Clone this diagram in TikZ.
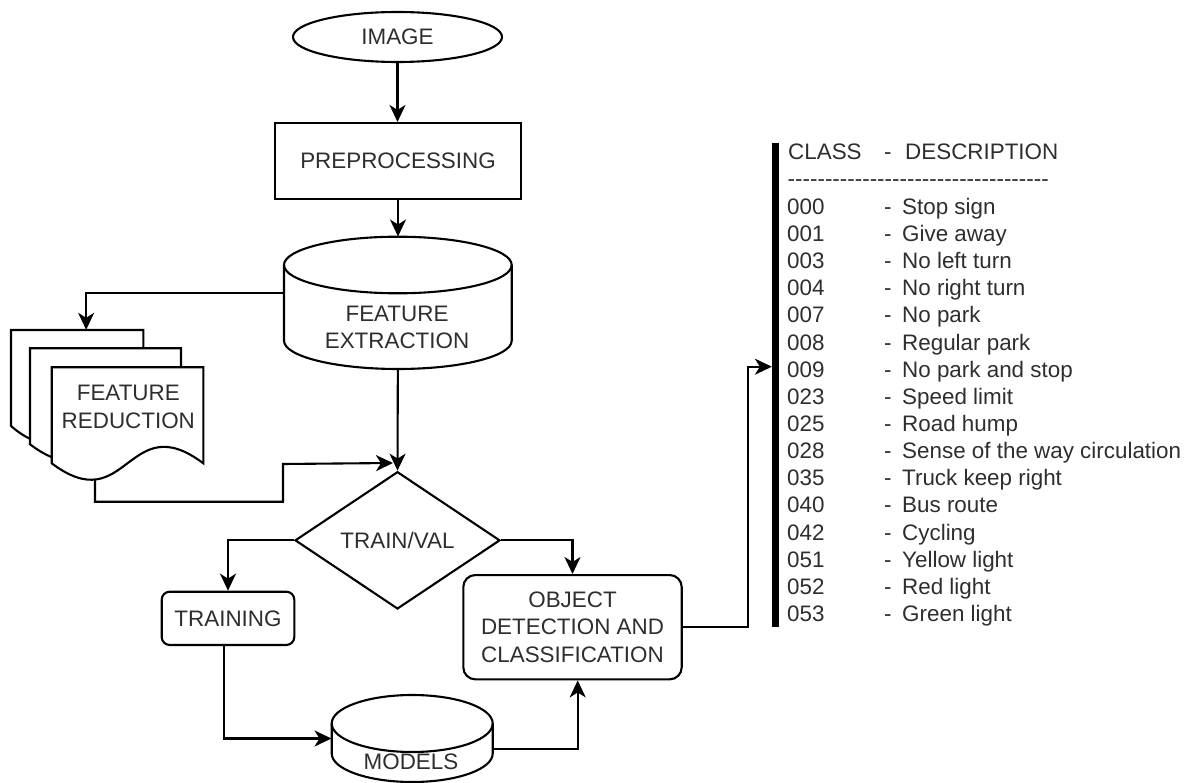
\documentclass[tikz,border=0pt]{standalone}
\usepackage{fontspec}
\setmainfont{Liberation Sans}
\usetikzlibrary{arrows.meta,shapes.geometric}

% drum (database) outline: centre x, top-ellipse y, bottom-ellipse y, x radius, y radius
\newcommand{\drawdrum}[5]{%
  \path[shp] ({#1-#4},#2) -- ({#1-#4},#3)
    arc[start angle=180,end angle=0,x radius=#4,y radius=#5] -- ({#1+#4},#2)
    arc[start angle=0,end angle=-180,x radius=#4,y radius=#5] -- cycle;
  \draw[plain] ({#1-#4},#2) arc[start angle=180,end angle=0,x radius=#4,y radius=#5];
}
\newcommand{\hy}{\mbox{-}}

\begin{document}
\begin{tikzpicture}[x=1pt,y=-1pt,
  every node/.style={font=\fontsize{22.4}{27.2}\selectfont, text=black!82, inner sep=0pt},
  shp/.style={draw=black, line width=2.1pt, fill=white},
  plain/.style={draw=black, line width=2.1pt},
  conn/.style={draw=black, line width=2.1pt, -{Stealth[length=17pt,width=16pt,inset=5pt]}},
  lst/.style={anchor=base west},
]
\useasboundingbox (0,0) rectangle (1191,783);

% main column
\node[shp, ellipse, minimum width=209pt, minimum height=50pt] (img) at (397.5,37) {IMAGE};
\node[shp, rectangle, minimum width=246pt, minimum height=76pt] (pre) at (398,161) {PREPROCESSING};

\node[minimum width=227.7pt, minimum height=132.3pt] (fe) at (397.85,302.85) {};
\drawdrum{397.85}{265}{340.7}{113.85}{28.3}
\node[align=center] (fetxt) at (397,327.5) {FEATURE\\EXTRACTION};

% stacked documents
\node[minimum width=192.3pt, minimum height=153pt] (fr) at (107.15,406.5) {};
\path[shp] (11,330) -- (143.3,330) -- (143.3,426)
  .. controls (77.15,369) and (77.15,483) .. (11,426) -- cycle;
\path[shp] (30,348.3) -- (181,348.3) -- (181,444.3)
  .. controls (105.5,387.3) and (105.5,501.3) .. (30,444.3) -- cycle;
\path[shp] (51.7,367.3) -- (203.3,367.3) -- (203.3,463.3)
  .. controls (127.5,406.3) and (127.5,520.3) .. (51.7,463.3) -- cycle;
\node[align=center] (frtxt) at (128.3,407) {FEATURE\\REDUCTION};

\node[shp, diamond, aspect=1.493, minimum width=205pt, minimum height=137.3pt] (dia) at (397.5,540.35) {TRAIN/VAL};
\node[shp, rounded corners=8pt, minimum width=132.6pt, minimum height=53.3pt] (tr) at (228,618.35) {TRAINING};
\node[shp, rounded corners=12pt, minimum width=218.4pt, minimum height=104.3pt, align=center] (od) at (572.5,627.2)
  {OBJECT\\DETECTION AND\\CLASSIFICATION};

\node[minimum width=161pt, minimum height=87pt] (mod) at (412.2,738.5) {};
\drawdrum{412.2}{723.5}{753.5}{80.5}{28.5}
\node (modtxt) at (411,762) {MODELS};

% class list
\node[fill=black, minimum width=6.6pt, minimum height=484pt, anchor=north] (bar) at (775.2,143) {};
\node[lst] (hcls) at (788,159.3) {CLASS};
\node[lst] (hdsh) at (884,159.3) {-};
\node[lst] (hdsc) at (905,159.3) {DESCRIPTION};
\node[lst] (rule) at (787.5,186.5) {\hy\hy\hy\hy\hy\hy\hy\hy\hy\hy\hy\hy\hy\hy\hy\hy\hy\hy\hy\hy\hy\hy\hy\hy\hy\hy\hy\hy\hy\hy\hy\hy\hy\hy\hy};
\foreach \n/\d [count=\i from 0] in {000/Stop sign, 001/Give away, 003/No left turn,
    004/No right turn, 007/No park, 008/Regular park, 009/No park and stop,
    023/Speed limit, 025/Road hump, 028/Sense of the way circulation,
    035/Truck keep right, 040/Bus route, 042/Cycling, 051/Yellow light,
    052/Red light, 053/Green light} {
  \node[lst] (num\i) at (787,{214.3+27.15*\i}) {\n};
  \node[lst] (dsh\i) at (884,{214.3+27.15*\i}) {-};
  \node[lst] (dsc\i) at (902,{214.3+27.15*\i}) {\d};
}

% connectors
\coordinate (feout) at ([yshift=9.5pt]fe.west);
\coordinate (frin) at ([xshift=-21pt]fr.north);
\coordinate (frout) at (95,479.5);
\coordinate (dtop) at ([yshift=7.7pt]dia.north);
\coordinate (barin) at (771.9,366.7);

\draw[conn] (img.south) -- (img.south |- pre.north);
\draw[conn] (pre.south) -- (pre.south |- fe.north);
\draw[conn] (feout) -| (frin);
\draw[conn] (fe.south) -- (dia.north);
\draw[conn, shorten >=4.5pt] (frout) -- (95,501.7) -| (283,464) -- (dtop);
\draw[conn] (dia.west) -| (tr.north);
\draw[conn] (dia.east) -| (od.north);
\draw[conn] ([xshift=-3.7pt]tr.south) |- (mod.west);
\draw[conn] ([yshift=-10.8pt]mod.east) -| ([xshift=5.2pt]od.south);
\draw[conn] (od.east) -- ++(64.9,0) |- (barin);
\end{tikzpicture}
\end{document}
